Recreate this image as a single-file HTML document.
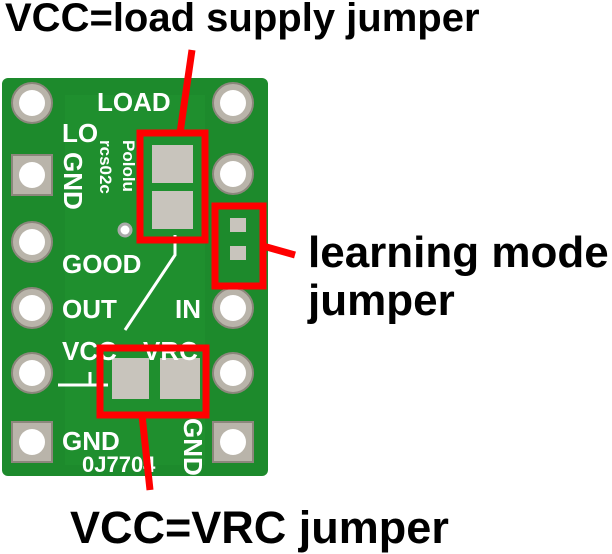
<!DOCTYPE html>
<html><head><style>
body{margin:0;width:612px;height:554px;background:#fff;overflow:hidden;position:relative;font-family:"Liberation Sans",Arial,sans-serif}
.t{position:absolute;font-weight:bold;color:#000;white-space:nowrap;line-height:1}
</style></head><body>
<svg width="612" height="554" style="position:absolute;left:0;top:0">
<rect x="2" y="78" width="266" height="398" rx="6" fill="#1d8a2c"/>
<rect x="65" y="95" width="140" height="370" fill="#22932f" opacity="0.5"/>
<g fill="#b9b4aa" stroke="#8c877c" stroke-width="2">
<circle cx="32" cy="103" r="20"/><circle cx="32" cy="242" r="20"/><circle cx="32" cy="308" r="20"/><circle cx="32" cy="373" r="20"/>
<rect x="12" y="155" width="40" height="40"/><rect x="12" y="422" width="40" height="40"/>
<circle cx="233" cy="103" r="20"/><circle cx="233" cy="174" r="20"/><circle cx="233" cy="308" r="20"/><circle cx="233" cy="373" r="20"/>
<rect x="213" y="422" width="40" height="40"/>
</g>
<g fill="#fff">
<circle cx="32" cy="103" r="13"/><circle cx="32" cy="175" r="13"/><circle cx="32" cy="242" r="13"/><circle cx="32" cy="308" r="13"/><circle cx="32" cy="373" r="13"/><circle cx="32" cy="442" r="13"/>
<circle cx="233" cy="103" r="13"/><circle cx="233" cy="174" r="13"/><circle cx="233" cy="308" r="13"/><circle cx="233" cy="373" r="13"/><circle cx="233" cy="442" r="13"/>
<circle cx="125" cy="230" r="6" stroke="#aaa" stroke-width="3"/>
</g>
<g fill="#c8c4bc">
<rect x="152" y="145" width="41" height="38"/><rect x="152" y="191" width="41" height="38"/>
<rect x="112" y="358" width="37" height="41"/><rect x="160" y="358" width="40" height="41"/>
<rect x="230" y="218" width="16" height="14"/><rect x="230" y="246" width="16" height="14"/>
</g>
<g stroke="#fff" stroke-width="3" fill="none">
<polyline points="175,235 175,255 125,330"/>
<polyline points="58,385 90,385"/><polyline points="90,372 90,385 108,385"/>
</g>
<g font-family="Liberation Sans,Arial,sans-serif" font-weight="bold" fill="#fff" font-size="26">
<text x="97" y="111">LOAD</text>
<text x="62" y="142">LO</text>
<text x="62" y="273">GOOD</text>
<text x="62" y="318">OUT</text>
<text x="175" y="318">IN</text>
<text x="62" y="360">VCC</text>
<text x="143" y="360">VRC</text>
<text x="62" y="450">GND</text>
<text x="82" y="472" font-size="22">0J7704</text>
<text transform="translate(64,152) rotate(90)">GND</text>
<text transform="translate(184,418) rotate(90)">GND</text>
<text transform="translate(123,140) rotate(90)" font-size="17">Pololu</text>
<text transform="translate(100,140) rotate(90)" font-size="17">rcs02c</text>
</g>
<g stroke="#f00" stroke-width="7" fill="none">
<rect x="140" y="133" width="65" height="107"/>
<rect x="215" y="206" width="48" height="80"/>
<rect x="100" y="348" width="106" height="67"/>
<line x1="180" y1="133" x2="192" y2="50"/>
<line x1="263" y1="246" x2="295" y2="255"/>
<line x1="142" y1="415" x2="150" y2="490"/>
</g>
</svg>
<div class="t" style="left:5px;top:-2px;font-size:40px">VCC=load supply jumper</div>
<div class="t" style="left:308px;top:231px;font-size:44px">learning mode</div>
<div class="t" style="left:308px;top:279px;font-size:44px">jumper</div>
<div class="t" style="left:70px;top:505px;font-size:45px">VCC=VRC jumper</div>
</body></html>
